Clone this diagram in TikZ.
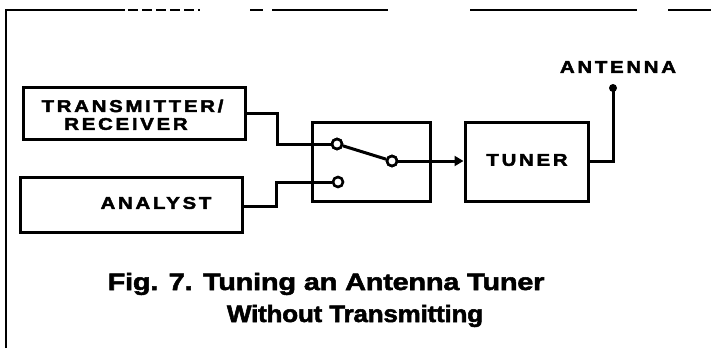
\documentclass[tikz,border=0pt]{standalone}
\usepackage{fontspec}
\setmainfont{Liberation Sans}
\newfontfamily\lblfont[LetterSpace=16,FakeStretch=1.2,FakeBold=2.5]{Liberation Sans}
\newfontfamily\capfontA[FakeStretch=1.22,FakeBold=2.2,LetterSpace=-1]{Liberation Sans}
\newfontfamily\capfontB[FakeStretch=1.1,FakeBold=2.2,LetterSpace=-1]{Liberation Sans}
\usetikzlibrary{arrows.meta}
\tikzset{
  wire/.style={line width=3pt, line join=miter},
  blk/.style={draw, line width=3pt, rectangle, inner sep=0pt},
  lbl/.style={font=\lblfont\bfseries\fontsize{17}{18}\selectfont, inner sep=0pt},
  captxtA/.style={font=\capfontA\bfseries\fontsize{23.7}{26}\selectfont, inner sep=0pt, anchor=base},
  captxtB/.style={font=\capfontB\bfseries\fontsize{23.7}{26}\selectfont, inner sep=0pt, anchor=base},
  contact/.style={draw, circle, line width=2.6pt, minimum size=10pt, inner sep=0pt, fill=white},
  frameline/.style={line width=2.2pt}
}
\begin{document}
\begin{tikzpicture}[x=1pt,y=-1pt]
\useasboundingbox (0,0) rectangle (711,348);
% scanned frame remnants
\draw[frameline] (6,348) -- (6,10) -- (125,10);
\draw[frameline, dash pattern=on 10pt off 4pt] (128,10) -- (200,10);
\draw[frameline] (250,10) -- (263,10);
\draw[frameline] (272,10) -- (388,10);
\draw[frameline] (470,10) -- (637,10);
\draw[frameline] (668,10) -- (711,10);

% blocks
\node[blk, minimum width=222pt, minimum height=52pt] (tx) at (134,113) {};
\node[lbl] (txl1) at (132.5,106) {TRANSMITTER/};
\node[lbl] (txl2) at (126,124) {RECEIVER};
\node[blk, minimum width=222pt, minimum height=55pt] (an) at (131,204.5) {};
\node[lbl] (anl) at (156,203) {ANALYST};
\node[blk, minimum width=118pt, minimum height=79pt] (sw) at (371,162) {};
\node[blk, minimum width=123pt, minimum height=79pt] (tu) at (526.5,162) {};
\node[lbl] (tul) at (527,160) {TUNER};
\node[lbl] (antl) at (618,67) {ANTENNA};

% switch contacts
\node[contact] (c1) at (337,144) {};
\node[contact] (c2) at (338,182) {};
\node[contact] (c3) at (392,161) {};
\coordinate (antTop) at (613,88);
\coordinate (txbend) at (277,113);
\coordinate (anbend) at (276,206);

% wiring
\draw[wire] (tx.east |- txbend) -- (txbend) |- (c1.west);
\draw[wire] (an.east |- anbend) -- (anbend) |- (c2.west);
\draw[wire] (c1) -- (c3);
\draw[wire, -{Triangle[length=9pt,width=10pt]}] (c3.east) -- (tu.west |- c3);
\draw[wire] (tu.east |- c3) -| (antTop);
\fill (antTop) circle (4pt);
\node[contact] at (c1) {};
\node[contact] at (c3) {};

% caption
\node[captxtA] (cap1) at (326,290) {Fig. 7. Tuning an Antenna Tuner};
\node[captxtB] (cap2) at (355,322) {Without Transmitting};
\end{tikzpicture}
\end{document}
